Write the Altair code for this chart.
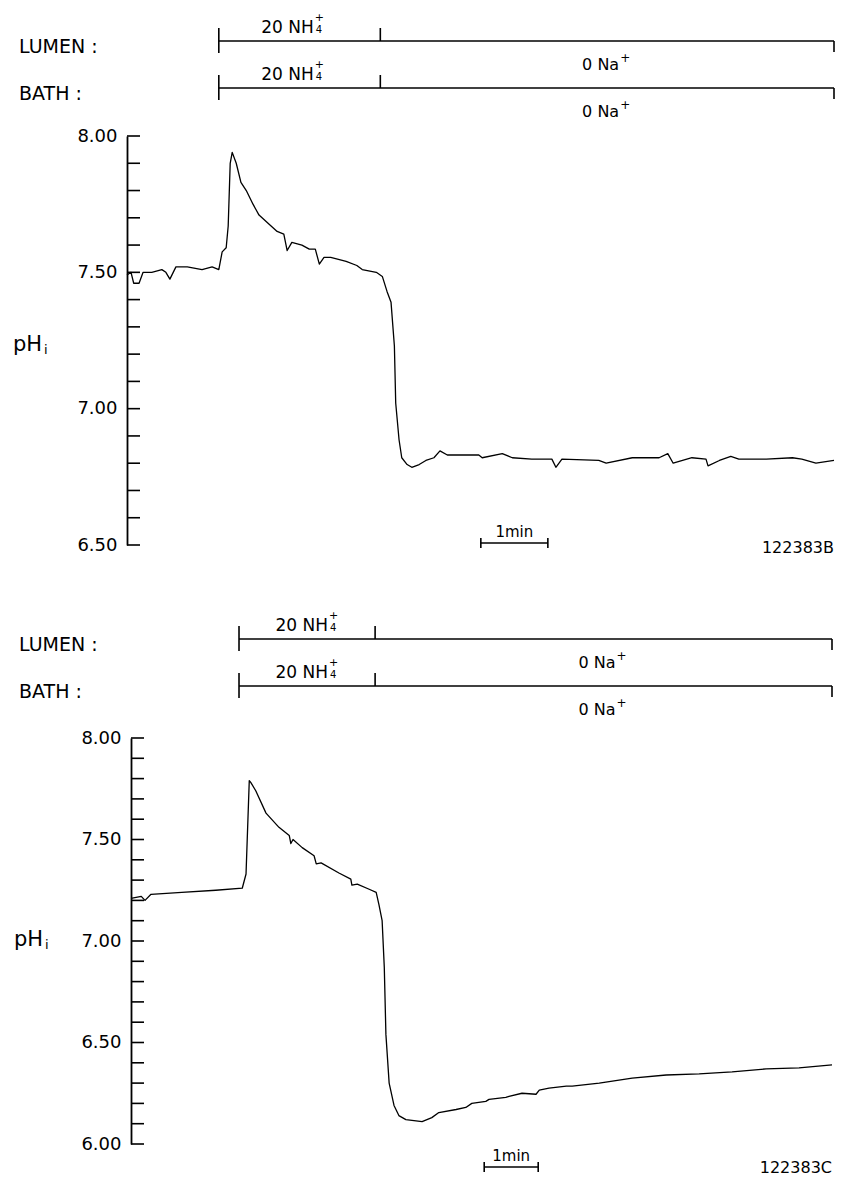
import altair as alt
import pandas as pd

FONT = "DejaVu Sans"

# ---------------- data ----------------
# Top record (122383B): time in minutes from the y axis, intracellular pH
TOP_T = [0.00, 0.06, 0.10, 0.18, 0.24, 0.37, 0.52, 0.58, 0.64, 0.73, 0.90, 1.12, 1.27, 1.37,
         1.42, 1.48, 1.51, 1.54, 1.57, 1.63, 1.70, 1.78, 1.88, 1.97, 2.06, 2.15, 2.24, 2.34,
         2.39, 2.46, 2.61, 2.72, 2.81, 2.87, 2.94, 3.04, 3.27, 3.43, 3.51, 3.72, 3.81, 3.88,
         3.94, 3.99, 4.01, 4.06, 4.10, 4.18, 4.25, 4.36, 4.46, 4.58, 4.67, 4.78, 5.25, 5.30,
         5.60, 5.75, 6.04, 6.34, 6.40, 6.49, 7.04, 7.15, 7.54, 7.94, 8.07, 8.15, 8.43, 8.64,
         8.67, 8.84, 9.01, 9.13, 9.54, 9.93, 10.07, 10.28, 10.55]
TOP_PH = [7.49, 7.50, 7.46, 7.46, 7.50, 7.50, 7.51, 7.50, 7.475, 7.52, 7.52, 7.51, 7.52, 7.51,
          7.575, 7.59, 7.67, 7.90, 7.94, 7.90, 7.83, 7.80, 7.75, 7.71, 7.69, 7.67, 7.65, 7.64,
          7.58, 7.61, 7.60, 7.585, 7.585, 7.53, 7.555, 7.555, 7.54, 7.525, 7.51, 7.50, 7.485, 7.43,
          7.39, 7.23, 7.02, 6.885, 6.82, 6.795, 6.785, 6.795, 6.81, 6.82, 6.845, 6.83, 6.83, 6.82,
          6.835, 6.82, 6.815, 6.815, 6.785, 6.815, 6.81, 6.80, 6.82, 6.82, 6.835, 6.80, 6.82, 6.815,
          6.79, 6.81, 6.825, 6.815, 6.815, 6.82, 6.815, 6.80, 6.81]

# Bottom record (122383C)
BOT_T = [0.00, 0.19, 0.26, 0.37, 0.94, 1.57, 2.06, 2.13, 2.19, 2.22, 2.31, 2.50, 2.74, 2.93,
         2.96, 3.00, 3.17, 3.39, 3.43, 3.52, 3.85, 4.07, 4.09, 4.19, 4.41, 4.54, 4.59, 4.65,
         4.69, 4.72, 4.78, 4.87, 4.96, 5.09, 5.24, 5.39, 5.57, 5.70, 6.02, 6.20, 6.31, 6.57,
         6.63, 6.94, 7.00, 7.24, 7.50, 7.56, 7.74, 8.06, 8.17, 8.67, 9.28, 9.91, 10.52, 11.13,
         11.76, 12.37, 12.98]
BOT_PH = [7.21, 7.22, 7.20, 7.23, 7.24, 7.25, 7.26, 7.33, 7.79, 7.78, 7.74, 7.63, 7.56, 7.52,
          7.48, 7.50, 7.46, 7.42, 7.38, 7.385, 7.335, 7.305, 7.275, 7.28, 7.255, 7.24, 7.18, 7.10,
          6.87, 6.54, 6.30, 6.19, 6.14, 6.12, 6.115, 6.11, 6.13, 6.155, 6.17, 6.18, 6.20, 6.21,
          6.22, 6.23, 6.235, 6.25, 6.245, 6.265, 6.275, 6.285, 6.285, 6.30, 6.325, 6.34, 6.345, 6.355,
          6.37, 6.375, 6.39]

# solution protocol: NH4+ start, switch to 0 Na+, end (minutes)
TOP_EVENTS = [1.37, 3.78, 10.55]
BOT_EVENTS = [2.00, 4.52, 12.98]
TOP_XMAX = 10.55
BOT_XMAX = 12.98
TOP_YDOMAIN = [6.5, 8.0]
BOT_YDOMAIN = [6.0, 8.0]
TOP_TICKS = [6.5, 6.6, 6.7, 6.8, 6.9, 7.0, 7.1, 7.2, 7.3, 7.4, 7.5, 7.6, 7.7, 7.8, 7.9, 8.0]
BOT_TICKS = [6.0, 6.1, 6.2, 6.3, 6.4, 6.5, 6.6, 6.7, 6.8, 6.9, 7.0, 7.1, 7.2, 7.3, 7.4,
             7.5, 7.6, 7.7, 7.8, 7.9, 8.0]
TOP_LABELS = [6.5, 7.0, 7.5, 8.0]
BOT_LABELS = [6.0, 6.5, 7.0, 7.5, 8.0]
TOP_SCALEBAR = [5.28, 6.28]
BOT_SCALEBAR = [6.54, 7.54]
RUN_IDS = ["122383B", "122383C"]
ROW_NAMES = ["LUMEN :", "BATH :"]
NH_TEXT, NH_SUB, NH_SUP = "20 NH", "4", "+"
NA_TEXT, NA_SUP = "0 Na", "+"
Y_TITLE, Y_SUB = "pH", "i"
SCALE_TEXT = "1min"


def panel(ts, phs, events, xmax, ydom, ticks, labels, sbar, run_id, g):
    xo = g["xo"]
    trace = pd.DataFrame({"t": ts, "ph": phs})
    ev = pd.DataFrame({"start": [events[0]], "switch": [events[1]], "end": [events[2]],
                       "mid": [(events[1] + events[2]) / 2]})
    sb = pd.DataFrame({"a": [sbar[0]], "b": [sbar[1]], "m": [(sbar[0] + sbar[1]) / 2],
                       "xmax": [xmax]})
    one = pd.DataFrame({"k": [0]})

    xs = alt.Scale(domain=[0, xmax], nice=False, zero=False, range=[xo, xo + g["w"]])
    ys = alt.Scale(domain=ydom, nice=False, zero=False)
    yaxis = alt.Axis(values=labels, format=".2f", ticks=False, domain=True,
                     domainColor="black", domainWidth=1.8, grid=False, offset=-xo,
                     labelFont=FONT, labelFontSize=18, labelColor="black",
                     labelPadding=10, title=None)

    def X(f):
        return alt.X(f, type="quantitative", scale=xs, axis=None)

    def Y(f):
        return alt.Y(f, type="quantitative", scale=ys, axis=yaxis)

    layers = []
    layers.append(alt.Chart(trace).mark_line(color="black", strokeWidth=1.3, strokeJoin="round")
                  .encode(x=X("t"), y=Y("ph")))
    layers.append(alt.Chart(pd.DataFrame({"v": ticks})).mark_rule(color="black", strokeWidth=1.6)
                  .encode(y=Y("v"), x=alt.value(xo), x2=alt.value(xo + 13)))

    rule = dict(color="black", strokeWidth=1.6)
    for name, ly in zip(ROW_NAMES, [g["lum"], g["bath"]]):
        base = alt.Chart(ev)
        layers.append(base.mark_rule(**rule).encode(x=X("start"), x2="end", y=alt.value(ly)))
        layers.append(base.mark_rule(**rule).encode(x=X("start"), y=alt.value(ly - 13), y2=alt.value(ly + 12)))
        layers.append(base.mark_rule(**rule).encode(x=X("switch"), y=alt.value(ly - 13), y2=alt.value(ly)))
        layers.append(base.mark_rule(**rule).encode(x=X("end"), y=alt.value(ly), y2=alt.value(ly + 11)))
        layers.append(base.mark_text(align="right", font=FONT, fontSize=17, dx=g["nh_dx"])
                      .encode(x=X("start"), y=alt.value(ly - 13), text=alt.value(NH_TEXT)))
        layers.append(base.mark_text(align="left", font=FONT, fontSize=11, dx=g["nh_dx"] + 1)
                      .encode(x=X("start"), y=alt.value(ly - 23), text=alt.value(NH_SUP)))
        layers.append(base.mark_text(align="left", font=FONT, fontSize=10, dx=g["nh_dx"] + 2)
                      .encode(x=X("start"), y=alt.value(ly - 11), text=alt.value(NH_SUB)))
        layers.append(base.mark_text(align="right", font=FONT, fontSize=16, dx=12)
                      .encode(x=X("mid"), y=alt.value(ly + 24), text=alt.value(NA_TEXT)))
        layers.append(base.mark_text(align="left", font=FONT, fontSize=12, dx=13)
                      .encode(x=X("mid"), y=alt.value(ly + 17), text=alt.value(NA_SUP)))
        layers.append(alt.Chart(one).mark_text(align="left", font=FONT, fontSize=19)
                      .encode(x=alt.value(xo + g["row_x"]), y=alt.value(ly + 6), text=alt.value(name)))

    # y title pH_i
    layers.append(alt.Chart(one).mark_text(align="left", font=FONT, fontSize=21)
                  .encode(x=alt.value(xo + g["ph_x"]), y=alt.value(g["ph_y"]), text=alt.value(Y_TITLE)))
    layers.append(alt.Chart(one).mark_text(align="left", font=FONT, fontSize=13)
                  .encode(x=alt.value(xo + g["ph_x"] + 31), y=alt.value(g["ph_y"] + 5), text=alt.value(Y_SUB)))

    # 1 min scale bar and record number
    sbc = alt.Chart(sb)
    sy = g["sb_y"]
    layers.append(sbc.mark_rule(**rule).encode(x=X("a"), x2="b", y=alt.value(sy)))
    layers.append(sbc.mark_rule(**rule).encode(x=X("a"), y=alt.value(sy - 5), y2=alt.value(sy + 5)))
    layers.append(sbc.mark_rule(**rule).encode(x=X("b"), y=alt.value(sy - 5), y2=alt.value(sy + 5)))
    layers.append(sbc.mark_text(align="center", font=FONT, fontSize=15)
                  .encode(x=X("m"), y=alt.value(sy - 11), text=alt.value(SCALE_TEXT)))
    layers.append(sbc.mark_text(align="right", font=FONT, fontSize=16)
                  .encode(x=X("xmax"), y=alt.value(g["id_y"]), text=alt.value(run_id)))

    return alt.layer(*layers).properties(width=g["w"] + xo, height=g["h"])


top = panel(TOP_T, TOP_PH, TOP_EVENTS, TOP_XMAX, TOP_YDOMAIN, TOP_TICKS, TOP_LABELS,
            TOP_SCALEBAR, RUN_IDS[0],
            dict(xo=0, w=707, h=409, lum=-95, bath=-48, nh_dx=95, row_x=-108,
                 ph_x=-114, ph_y=209, sb_y=407, id_y=412))
bottom = panel(BOT_T, BOT_PH, BOT_EVENTS, BOT_XMAX, BOT_YDOMAIN, BOT_TICKS, BOT_LABELS,
               BOT_SCALEBAR, RUN_IDS[1],
               dict(xo=4, w=701, h=406, lum=-99, bath=-52, nh_dx=89, row_x=-112,
                    ph_x=-117, ph_y=202, sb_y=429, id_y=430))

chart = (alt.vconcat(top, bottom, spacing=54)
         .properties(padding={"left": 13, "top": 12, "right": 2, "bottom": 0},
                     background="white")
         .configure_view(stroke=None))

chart.save("out.html", embed_options={"renderer": "svg", "actions": False})
